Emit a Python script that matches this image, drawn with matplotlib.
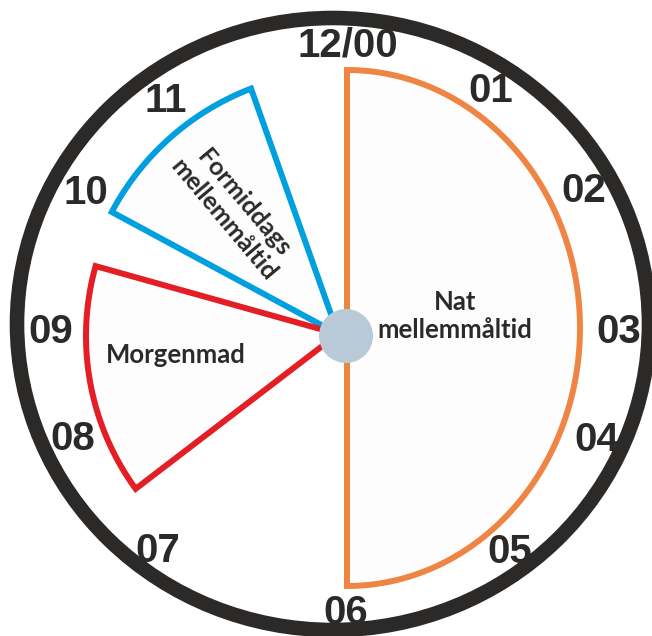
import numpy as np
import matplotlib
matplotlib.use("Agg")
import matplotlib.pyplot as plt
from matplotlib.patches import Polygon, Ellipse, Circle

# maaltider: start/slut i klokketimer (0-12), radius i pixels
maaltider = ["Nat\nmellemmåltid", "Morgenmad", "Formiddags\nmellemmåltid"]
start_time = [0.0, 7.8, 9.93]
slut_time = [6.0, 9.52, 11.3]
radius = [258, 260, 265]
farver = ["#EF8544", "#E31E25", "#009FE0"]

timer = [12, 1, 2, 3, 4, 5, 6, 7, 8, 9, 10, 11]
time_labels = ["12/00", "01", "02", "03", "04", "05", "06", "07", "08", "09", "10", "11"]

W, H = 652, 636
fig = plt.figure(figsize=(W / 100, H / 100), dpi=100)
ax = fig.add_axes([0, 0, 1, 1])
ax.set_xlim(0, W)
ax.set_ylim(H, 0)
ax.axis("off")

cx, cy = 346, 336          # nav
rcx, rcy = 333, 324        # urskive
tekst = "#2B2A29"


def punkt(x0, y0, h, rx, ry=None):
    if ry is None:
        ry = rx
    t = np.radians(h * 30)
    return x0 + rx * np.sin(t), y0 - ry * np.cos(t)


# urskive
ax.add_patch(Ellipse((rcx, rcy), 2 * 316, 2 * 306, fill=False, ec=tekst, lw=10.5, zorder=1))

# tallene sidder ikke helt jaevnt fordelt i originalen (grader)
skub = [2.6, 3.2, 1, 0.6, -7.1, -8.1, -2.2, 8.7, 7.3, -0.6, -1.3, -6.6]
for h, lab, d in zip(timer, time_labels, skub):
    x, y = punkt(335, 329, h % 12 + d / 30, 284)
    ax.text(x, y, lab, ha="center", va="center", fontsize=29, fontweight="bold",
            family="Liberation Sans", color=tekst, zorder=5)

# natmellemmaaltid (halv ellipse)
hh = np.linspace(start_time[0], slut_time[0], 120)
xs, ys = punkt(cx + 1, 328, hh, 233, radius[0])
ax.add_patch(Polygon(np.column_stack([xs, ys]), closed=True, fc="#FDFDFD", ec=farver[0],
                     lw=4.3, joinstyle="miter", zorder=2))

# morgenmad og formiddag (blaa foerst, roed ovenpaa)
for i in [2, 1]:
    hh = np.linspace(start_time[i], slut_time[i], 80)
    xs, ys = punkt(cx, cy, hh, radius[i])
    pts = np.vstack([[cx - 8, cy - 2], np.column_stack([xs, ys])])
    ax.add_patch(Polygon(pts, closed=True, fc="#FDFDFD", ec=farver[i],
                         lw=4.3, joinstyle="miter", zorder=3))

ax.add_patch(Circle((cx, cy), 27, fc="#B8CAD8", ec="none", zorder=6))

fnt = dict(family=["Lato", "DejaVu Sans"], fontweight="bold", color=tekst, zorder=5)
ax.text(455, 316, maaltider[0], ha="center", va="center", fontsize=18.5, linespacing=1.25, **fnt)
ax.text(176, 355, maaltider[1], ha="center", va="center", fontsize=18.5, **fnt)
ax.text(234, 211, maaltider[2], ha="center", va="center", fontsize=18, rotation=-50,
        rotation_mode="anchor", linespacing=1.2, **fnt)

fig.savefig("out.png", dpi=100)
